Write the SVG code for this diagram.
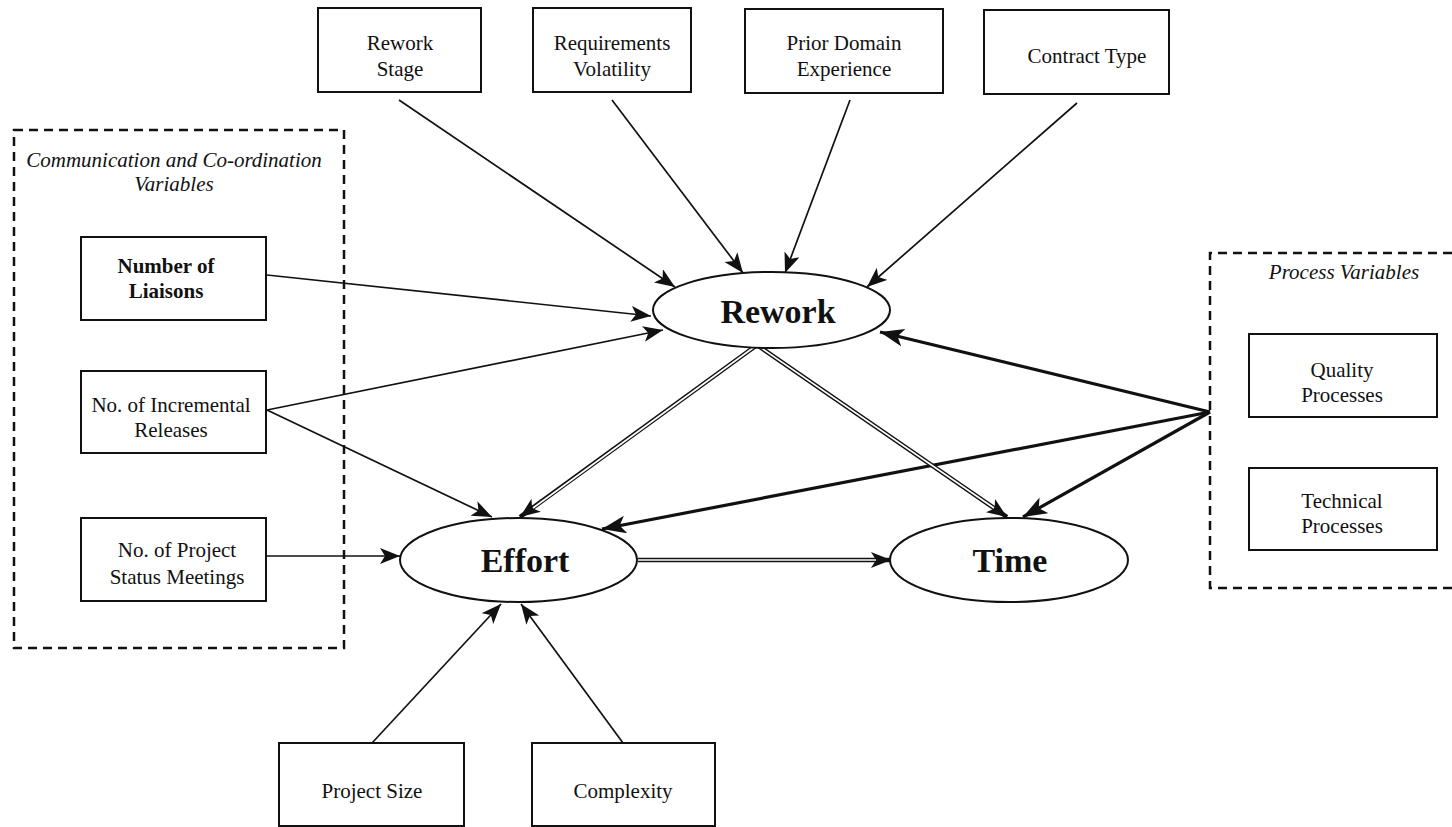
<svg xmlns="http://www.w3.org/2000/svg" width="1452" height="827" viewBox="0 0 1452 827">
<style>
  .box { fill: #fff; stroke: #111; stroke-width: 2; }
  .dash { fill: none; stroke: #111; stroke-width: 2.5; stroke-dasharray: 9 6; }
  .t { font-family: "Liberation Serif", "Times New Roman", serif; font-size: 21px; fill: #111; text-anchor: middle; }
  .b { font-weight: bold; }
  .i { font-style: italic; }
  .big { font-family: "Liberation Serif", "Times New Roman", serif; font-size: 34px; font-weight: bold; fill: #111; text-anchor: middle; }
  .ell { fill: #fff; stroke: #111; stroke-width: 2; }
  .thin { fill: none; stroke: #111; stroke-width: 1.7; marker-end: url(#ah); }
  .thick { fill: none; stroke: #111; stroke-width: 3.2; marker-end: url(#ahb); }
  .dblo { fill: none; stroke: #111; stroke-width: 4.5; marker-end: url(#ah); }
  .dbli { fill: none; stroke: #fff; stroke-width: 1.6; }
</style>
<defs>
  <marker id="ah" markerUnits="userSpaceOnUse" markerWidth="22" markerHeight="18" refX="20" refY="8" orient="auto">
    <path d="M0,0 L20,8 L0,16 L5,8 z" fill="#111"/>
  </marker>
  <marker id="ahb" markerUnits="userSpaceOnUse" markerWidth="26" markerHeight="20" refX="24" refY="9" orient="auto">
    <path d="M0,0 L24,9 L0,18 L6,9 z" fill="#111"/>
  </marker>
</defs>

<g id="group-communication">
  <rect class="dash" x="14" y="130" width="330" height="518"/>
  <text class="t i" x="174" y="167">Communication and Co-ordination</text>
  <text class="t i" x="174" y="191">Variables</text>
</g>
<g id="group-process">
  <path class="dash" d="M1452,253 H1210 V588 H1452"/>
  <text class="t i" x="1344" y="279">Process Variables</text>
</g>

<g id="connectors">
  <path class="thin" d="M399,100 L675,287"/>
  <path class="thin" d="M612,100 L743,273"/>
  <path class="thin" d="M850,100 L785,273"/>
  <path class="thin" d="M1077,103 L867,287"/>
  <path class="thin" d="M267,275 L651,316"/>
  <path class="thin" d="M267,410 L663,330"/>
  <path class="thin" d="M267,410 L492,517"/>
  <path class="thin" d="M267,556 L400,556"/>
  <path class="thin" d="M372,743 L501,604"/>
  <path class="thin" d="M623,743 L521,604"/>
  <path class="thick" d="M1210,412 L880,332"/>
  <path class="thick" d="M1210,412 L602,529"/>
  <path class="thick" d="M1210,412 L1023,517"/>
  <path class="dblo" d="M757,345 L520,517"/>
  <path class="dbli" d="M757,345 L533,508"/>
  <path class="dblo" d="M757,345 L1007,517"/>
  <path class="dbli" d="M757,345 L994,508"/>
  <path class="dblo" d="M638,560 L891,560"/>
  <path class="dbli" d="M638,560 L876,560"/>
</g>

<g id="rework-stage"><rect class="box" x="318" y="8" width="163" height="84"/><text class="t" x="400" y="50">Rework</text><text class="t" x="400" y="76">Stage</text></g>
<g id="requirements-volatility"><rect class="box" x="533" y="8" width="158" height="84"/><text class="t" x="612" y="50">Requirements</text><text class="t" x="612" y="76">Volatility</text></g>
<g id="prior-domain"><rect class="box" x="745" y="9" width="198" height="84"/><text class="t" x="844" y="50">Prior Domain</text><text class="t" x="844" y="76">Experience</text></g>
<g id="contract-type"><rect class="box" x="984" y="10" width="185" height="84"/><text class="t" x="1087" y="63">Contract Type</text></g>

<g id="number-of-liaisons"><rect class="box" x="81" y="237" width="185" height="83"/><text class="t b" x="166" y="273">Number of</text><text class="t b" x="166" y="298">Liaisons</text></g>
<g id="incremental-releases"><rect class="box" x="81" y="371" width="185" height="82"/><text class="t" x="171" y="412">No. of Incremental</text><text class="t" x="171" y="437">Releases</text></g>
<g id="status-meetings"><rect class="box" x="81" y="518" width="185" height="83"/><text class="t" x="177" y="557">No. of Project</text><text class="t" x="177" y="584">Status Meetings</text></g>

<g id="quality-processes"><rect class="box" x="1249" y="334" width="188" height="83"/><text class="t" x="1342" y="377">Quality</text><text class="t" x="1342" y="402">Processes</text></g>
<g id="technical-processes"><rect class="box" x="1249" y="468" width="188" height="82"/><text class="t" x="1342" y="508">Technical</text><text class="t" x="1342" y="533">Processes</text></g>

<g id="project-size"><rect class="box" x="279" y="743" width="185" height="83"/><text class="t" x="372" y="798">Project Size</text></g>
<g id="complexity"><rect class="box" x="532" y="743" width="183" height="83"/><text class="t" x="623" y="798">Complexity</text></g>

<g id="rework"><ellipse class="ell" cx="771.5" cy="310" rx="118.5" ry="38"/><text class="big" x="778" y="323">Rework</text></g>
<g id="effort"><ellipse class="ell" cx="518.5" cy="560" rx="118.5" ry="42"/><text class="big" x="525" y="572">Effort</text></g>
<g id="time"><ellipse class="ell" cx="1009" cy="560" rx="119" ry="42"/><text class="big" x="1010" y="572">Time</text></g>
</svg>
